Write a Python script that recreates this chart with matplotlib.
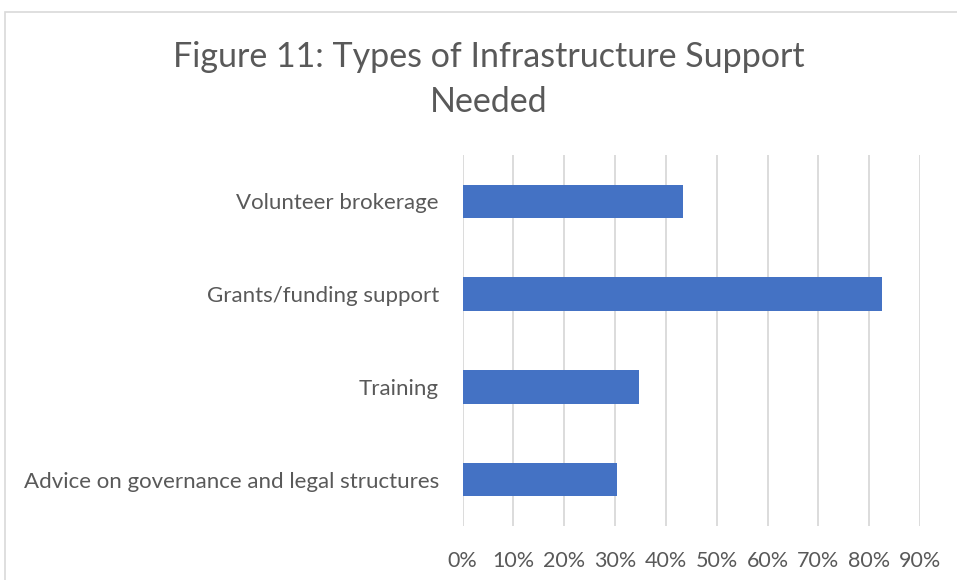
import matplotlib
matplotlib.use('Agg')
import matplotlib.pyplot as plt
from matplotlib.patches import Rectangle
from matplotlib.ticker import PercentFormatter

categories = ['Advice on governance and legal structures', 'Training',
              'Grants/funding support', 'Volunteer brokerage']
values = [0.304, 0.347, 0.826, 0.434]
xticks = [0, 0.1, 0.2, 0.3, 0.4, 0.5, 0.6, 0.7, 0.8, 0.9]

BAR_COLOR = '#4472C4'
TEXT_COLOR = '#595959'
GRID_COLOR = '#d9d9d9'

plt.rcParams['font.family'] = ['Lato', 'DejaVu Sans']

fig = plt.figure(figsize=(9.57, 5.8), dpi=100)
W, H = 957, 580

# chart frame
fig.patches.append(Rectangle((5 / W, -0.1), 1.2, 1 - 12 / H + 0.1,
                             transform=fig.transFigure, fill=False,
                             edgecolor=GRID_COLOR, linewidth=1.2))

ax = fig.add_axes([462.5 / W, 1 - 526 / H, (920 - 462.5) / W, (526 - 155) / H])
ax.barh(range(len(categories)), values, height=0.36, color=BAR_COLOR, zorder=3)
ax.set_xlim(0, 0.9)
ax.set_ylim(-0.5, len(categories) - 0.5)
ax.set_xticks(xticks)
ax.xaxis.set_major_formatter(PercentFormatter(1.0, decimals=0))
ax.set_yticks(range(len(categories)))
ax.set_yticklabels(categories)
ax.grid(axis='x', color=GRID_COLOR, linewidth=1.3, zorder=0)
for s in ax.spines.values():
    s.set_visible(False)
ax.tick_params(axis='both', length=0, colors=TEXT_COLOR)
ax.tick_params(axis='x', pad=18, labelsize=15.5)
ax.tick_params(axis='y', pad=17, labelsize=16)

fig.text(489 / W, 1 - 57 / H, 'Figure 11: Types of Infrastructure Support',
         ha='center', va='center', fontsize=24.5, color=TEXT_COLOR)
fig.text(489 / W, 1 - 102 / H, 'Needed',
         ha='center', va='center', fontsize=24.5, color=TEXT_COLOR)

fig.savefig('out.png', dpi=100, facecolor='white')
